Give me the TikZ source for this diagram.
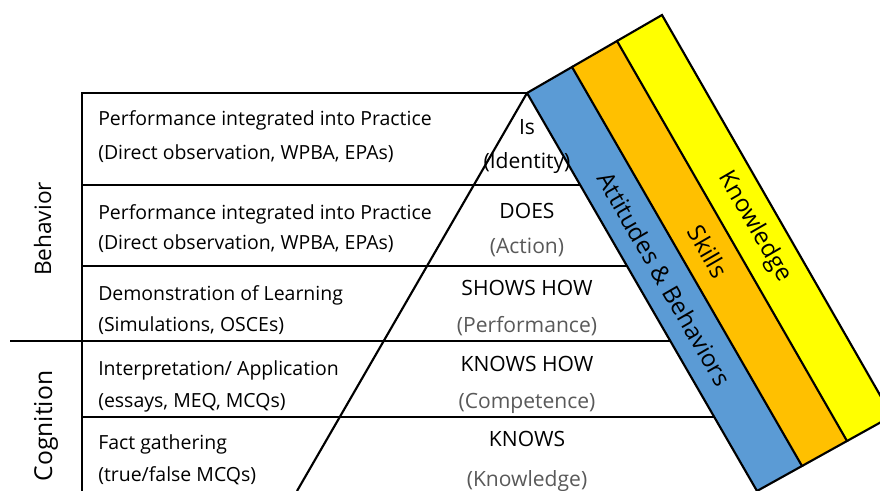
\documentclass[tikz,border=0pt]{standalone}
\usepackage{fontspec}
\setmainfont{Open Sans}
\usepackage{tikz}
\usetikzlibrary{calc}
\definecolor{bandblue}{HTML}{5B9BD5}
\definecolor{bandorange}{HTML}{FFC000}
\definecolor{bandyellow}{HTML}{FFFF00}
\definecolor{notegray}{HTML}{595959}
\tikzset{
	leftstyle/.style={anchor=base west,inner sep=0,font=\fontsize{14.6}{16}\selectfont},
	pyrstyle/.style={anchor=base,inner sep=0,font=\fontsize{15.8}{18}\selectfont},
	notestyle/.style={pyrstyle,text=notegray},
	sidestyle/.style={anchor=base,inner sep=0,rotate=90},
	bandstyle/.style={anchor=center,inner sep=0,rotate=-60,font=\fontsize{18}{20}\selectfont},
	linestyle/.style={draw=black,line width=1.6pt}
}

\begin{document}
\begin{tikzpicture}[x=0.75pt,y=-0.75pt]
	\useasboundingbox (0,0) rectangle (880,491);
	\clip (0,0) rectangle (880,491);
	% corners of the three bands
	\coordinate (t0) at (527,93);
	\coordinate (t1) at (572,67);
	\coordinate (t2) at (617,41);
	\coordinate (t3) at (662,15);
	\coordinate (b0) at (757,491);
	\coordinate (b1) at (802,466);
	\coordinate (b2) at (847,441);
	\coordinate (b3) at (892,416);
	\fill[bandblue] (t0)--(t1)--(b1)--(b0)--cycle;
	\fill[bandorange] (t1)--(t2)--(b2)--(b1)--cycle;
	\fill[bandyellow] (t2)--(t3)--(b3)--(b2)--cycle;
	\node[bandstyle] (att) at (664.5,279) {Attitudes \& Behaviors};
	\node[bandstyle] (ski) at (708.5,251.5) {Skills};
	\node[bandstyle] (kno) at (754.6,227) {Knowledge};
	% left column
	\node[leftstyle] (r1a) at (98,125.5) {Performance integrated into Practice};
	\node[leftstyle] (r1b) at (98,160) {(Direct observation, WPBA, EPAs)};
	\node[leftstyle] (r2a) at (98,219.5) {Performance integrated into Practice};
	\node[leftstyle] (r2b) at (98,250) {(Direct observation, WPBA, EPAs)};
	\node[leftstyle] (r3a) at (98,300) {Demonstration of Learning};
	\node[leftstyle] (r3b) at (98,331.5) {(Simulations, OSCEs)};
	\node[leftstyle] (r4a) at (98,375) {Interpretation/ Application};
	\node[leftstyle] (r4b) at (98,407.5) {(essays, MEQ, MCQs)};
	\node[leftstyle] (r5a) at (98,449.5) {Fact gathering};
	\node[leftstyle] (r5b) at (98,481.5) {(true/false MCQs)};
	% pyramid levels
	\node[pyrstyle] (is) at (527,135) {Is};
	\node[pyrstyle] (isn) at (527,168.3) {(Identity)};
	\node[pyrstyle] (does) at (527,218.3) {DOES};
	\node[notestyle] (doesn) at (527,253.3) {(Action)};
	\node[pyrstyle] (shows) at (527,296) {SHOWS HOW};
	\node[notestyle] (showsn) at (527,332.7) {(Performance)};
	\node[pyrstyle] (knowshow) at (527,371.7) {KNOWS HOW};
	\node[notestyle] (knowshown) at (527,408.3) {(Competence)};
	\node[pyrstyle] (knows) at (527,446) {KNOWS};
	\node[notestyle] (knowsn) at (527,486.7) {(Knowledge)};
	\node[sidestyle,font=\fontsize{17}{19}\selectfont] (beh) at (51,229) {Behavior};
	\node[sidestyle,font=\fontsize{18.5}{20}\selectfont] (cog) at (52,426) {Cognition};
	% lines
	\draw[linestyle] (t0)--(t1)--(b1)--(b0)--cycle;
	\draw[linestyle] (t1)--(t2)--(b2)--(b1);
	\draw[linestyle] (t2)--(t3)--(b3)--(b2);
	\draw[linestyle] (t0)--(297,491);
	\draw[linestyle] (82,491)--(82,93)--(t0);
	\draw[linestyle] (82,185)--(580.1,185);
	\draw[linestyle] (82,266)--(626.9,266);
	\draw[linestyle] (10,341)--(670.2,341);
	\draw[linestyle] (82,417)--(714.1,417);
\end{tikzpicture}
\end{document}
